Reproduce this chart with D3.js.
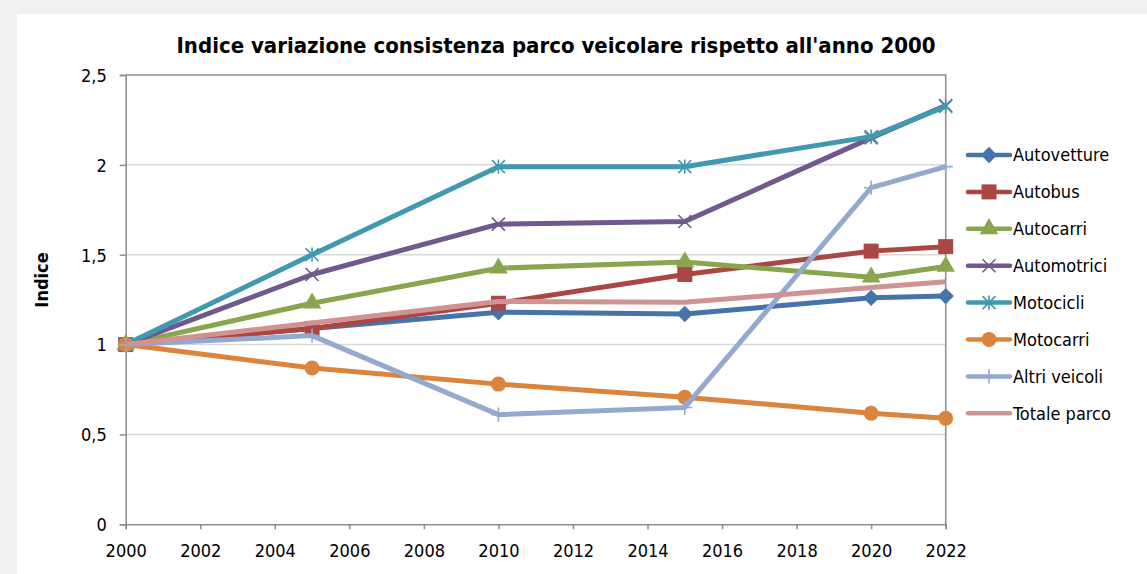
<!DOCTYPE html>
<html>
<head>
<meta charset="utf-8">
<script src="https://cdn.jsdelivr.net/npm/d3@7"></script>
<style>
  html, body { margin: 0; padding: 0; background: #f0f0f0; }
  svg { display: block; }
  text { font-family: "Liberation Sans Narrow", "DejaVu Sans Condensed", "Roboto", sans-serif; fill: #000; }
</style>
</head>
<body>
<div id="chart"></div>
<script>
// Data - index relative to year 2000
const years = [2000, 2005, 2010, 2015, 2020, 2022];
const seriesNames = ["Autovetture", "Autobus", "Autocarri", "Automotrici", "Motocicli", "Motocarri", "Altri veicoli", "Totale parco"];
const autovetture = [1, 1.09, 1.18, 1.17, 1.26, 1.27];
const autobus = [1, 1.09, 1.23, 1.39, 1.52, 1.545];
const autocarri = [1, 1.23, 1.425, 1.46, 1.375, 1.435];
const automotrici = [1, 1.39, 1.67, 1.685, 2.15, 2.33];
const motocicli = [1, 1.5, 1.99, 1.99, 2.157, 2.325];
const motocarri = [1, 0.87, 0.78, 0.707, 0.618, 0.59];
const altriVeicoli = [1, 1.05, 0.61, 0.65, 1.873, 1.99];
const totaleParco = [1, 1.12, 1.24, 1.235, 1.317, 1.35];
const xTicks = [2000, 2002, 2004, 2006, 2008, 2010, 2012, 2014, 2016, 2018, 2020, 2022];
const yTicks = [0, 0.5, 1, 1.5, 2, 2.5];

const seriesValues = [autovetture, autobus, autocarri, automotrici, motocicli, motocarri, altriVeicoli, totaleParco];
const colours = ["#4573aa", "#aa4643", "#89a54e", "#71588f", "#4198af", "#db843d", "#93a9cf", "#d19392"];
const markers = ["diamond", "square", "triangle", "cross", "star", "circle", "plus", "none"];

const width = 1147;
const height = 574;

// Italian number format (decimal comma)
const itLocale = d3.formatLocale({ decimal: ",", thousands: ".", grouping: [3], currency: ["€", ""] });
const fmt = (v) => itLocale.format("~g")(v);

const svg = d3.select("#chart").append("svg").attr("width", width).attr("height", height);

// White panel
svg.append("rect").attr("x", 17).attr("y", 14).attr("width", width - 17).attr("height", height - 14).attr("fill", "#fff");

// Scales
const x = d3.scaleLinear().domain([2000, 2022]).range([125.7, 945.7]);
const y = d3.scaleLinear().domain([0, 2.5]).range([524.3, 75]);

// Gridlines
svg.append("g")
  .selectAll("line")
  .data(yTicks.filter((t) => t > 0 && t < 2.5))
  .enter()
  .append("line")
  .attr("x1", x(2000))
  .attr("x2", x(2022))
  .attr("y1", (d) => y(d))
  .attr("y2", (d) => y(d))
  .attr("stroke", "#d9d9d9")
  .attr("stroke-width", 1.5);

// Plot border (top + right)
svg.append("path")
  .attr("d", `M${x(2000)},${y(2.5)}H${x(2022)}V${y(0)}`)
  .attr("fill", "none")
  .attr("stroke", "#8c8c8c")
  .attr("stroke-width", 1.5);

// Axes
const xAxis = svg.append("g")
  .attr("transform", `translate(0,${y(0)})`)
  .call(d3.axisBottom(x).tickValues(xTicks).tickFormat(d3.format("d")).tickSize(5).tickPadding(15));
const yAxis = svg.append("g")
  .attr("transform", `translate(${x(2000)},0)`)
  .call(d3.axisLeft(y).tickValues(yTicks).tickFormat(fmt).tickSize(6).tickPadding(13));

[xAxis, yAxis].forEach((ax) => {
  ax.select(".domain").attr("stroke", "#8c8c8c").attr("stroke-width", 1.5);
  ax.selectAll(".tick line").attr("stroke", "#8c8c8c").attr("stroke-width", 1.5);
  ax.selectAll(".tick text").style("font-size", "18px").attr("fill", "#000");
});
yAxis.selectAll(".tick text").attr("dy", "0.35em");

// Marker drawing
const drawMarker = (g, type, colour, cx, cy, scale) => {
  const s = scale || 1;
  if (type === "diamond") {
    g.append("path").attr("d", d3.symbol(d3.symbolDiamond2, 170 * s)()).attr("transform", `translate(${cx},${cy})`).attr("fill", colour);
  } else if (type === "square") {
    g.append("rect").attr("x", cx - 7.5 * s).attr("y", cy - 7.5 * s).attr("width", 15 * s).attr("height", 15 * s).attr("fill", colour);
  } else if (type === "triangle") {
    g.append("path").attr("d", d3.symbol(d3.symbolTriangle, 150 * s)()).attr("transform", `translate(${cx},${cy})`).attr("fill", colour);
  } else if (type === "circle") {
    g.append("circle").attr("cx", cx).attr("cy", cy).attr("r", 7.5 * s).attr("fill", colour);
  } else if (type === "cross" || type === "star" || type === "plus") {
    const r = 6.5 * s;
    let d = "";
    if (type !== "plus") d += `M${cx - r},${cy - r}L${cx + r},${cy + r}M${cx - r},${cy + r}L${cx + r},${cy - r}`;
    if (type !== "cross") d += `M${cx},${cy - r * 1.1}L${cx},${cy + r * 1.1}`;
    if (type === "plus") d += `M${cx - r * 1.1},${cy}L${cx + r * 1.1},${cy}`;
    g.append("path").attr("d", d).attr("stroke", colour).attr("stroke-width", 1.6).attr("fill", "none");
  }
};

// Lines
const line = d3.line().x((d) => x(d[0])).y((d) => y(d[1]));
const plot = svg.append("g");

seriesValues.forEach((vals, i) => {
  const g = plot.append("g");
  const pts = years.map((yr, j) => [yr, vals[j]]);
  g.append("path")
    .attr("d", line(pts))
    .attr("fill", "none")
    .attr("stroke", colours[i])
    .attr("stroke-width", 5)
    .attr("stroke-linejoin", "round");
  pts.forEach((p) => drawMarker(g, markers[i], colours[i], x(p[0]), y(p[1])));
});

// Legend
const legend = svg.append("g");
seriesNames.forEach((name, i) => {
  const ly = 155 + i * 36.9;
  const g = legend.append("g");
  g.append("line")
    .attr("x1", 968).attr("x2", 1010)
    .attr("y1", ly).attr("y2", ly)
    .attr("stroke", colours[i])
    .attr("stroke-width", 4.5)
    .attr("stroke-linecap", "round");
  drawMarker(g, markers[i], colours[i], 989, ly);
  g.append("text")
    .attr("x", 1013)
    .attr("y", ly)
    .attr("dy", "0.35em")
    .style("font-size", "18px")
    .text(name);
});

// Title
svg.append("text")
  .attr("x", 556)
  .attr("y", 45)
  .attr("dy", "0.35em")
  .attr("text-anchor", "middle")
  .style("font-size", "22px")
  .style("font-weight", "bold")
  .text("Indice variazione consistenza parco veicolare rispetto all'anno 2000");

// Y axis title
svg.append("text")
  .attr("transform", "translate(42,280) rotate(-90)")
  .attr("dy", "0.35em")
  .attr("text-anchor", "middle")
  .style("font-size", "18px")
  .style("font-weight", "bold")
  .text("Indice");
</script>
</body>
</html>
